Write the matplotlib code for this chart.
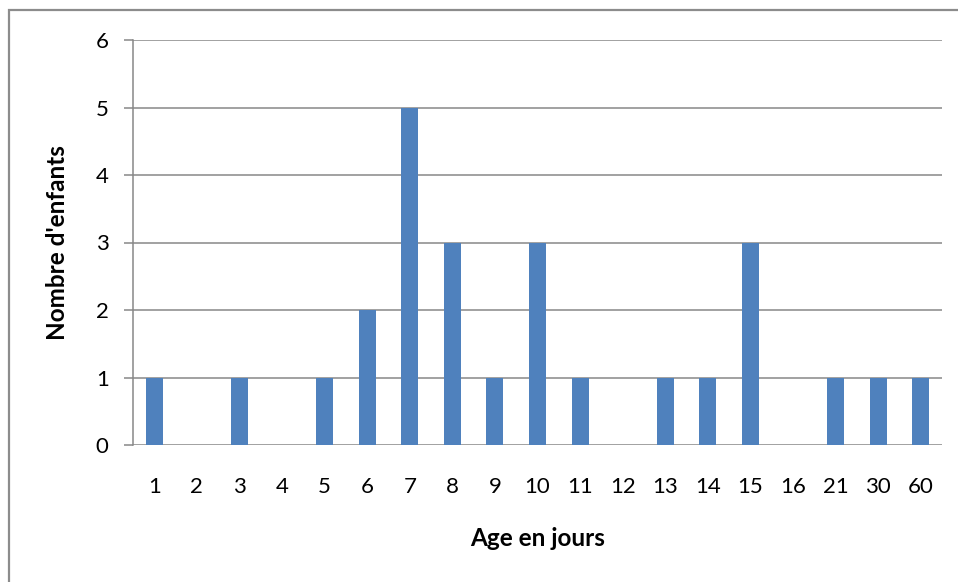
import matplotlib
matplotlib.use("Agg")
from matplotlib import pyplot as plt
from matplotlib.patches import Rectangle

# ages (days) and number of children
ages = ['1', '2', '3', '4', '5', '6', '7', '8', '9', '10', '11', '12', '13',
        '14', '15', '16', '21', '30', '60']
children = [1, 0, 1, 0, 1, 2, 5, 3, 1, 3, 1, 0, 1, 1, 3, 0, 1, 1, 1]
yticks = [0, 1, 2, 3, 4, 5, 6]

plt.rcParams['font.family'] = ['Lato', 'DejaVu Sans']

fig = plt.figure(figsize=(9.58, 5.82), dpi=100)
ax = fig.add_axes([133 / 958, 1 - 445 / 582, (942 - 133) / 958, (445 - 40) / 582])

grid_c = '#878787'
ax.bar(range(len(ages)), children, width=0.4, color='#4F81BD', zorder=3)
ax.set_xlim(-0.5, len(ages) - 0.5)
ax.set_ylim(0, 6)
ax.set_yticks(yticks)
ax.set_xticks(range(len(ages)))
ax.set_xticklabels(ages)
ax.yaxis.grid(True, color=grid_c, linewidth=1.1, zorder=1)
ax.set_axisbelow(True)

for side in ['top', 'right', 'bottom']:
    ax.spines[side].set_visible(False)
ax.spines['left'].set_color(grid_c)
ax.spines['left'].set_linewidth(1.1)
ax.tick_params(axis='y', length=6.5, width=1.1, color=grid_c, pad=11,
               labelsize=16)
ax.tick_params(axis='x', length=0, pad=23, labelsize=16)

ax.set_xlabel('Age en jours', fontsize=17.5, fontweight='bold', labelpad=22)
ax.set_ylabel("Nombre d'enfants", fontsize=17.5, fontweight='bold', labelpad=19)

# outer chart border (runs off the right and bottom edges)
fig.patches.append(Rectangle((9 / 958, -0.05), 1.0, 1 - 10 / 582 + 0.05,
                             transform=fig.transFigure, fill=False,
                             edgecolor='#8c8c8c', linewidth=1.6))

plt.savefig('out.png', dpi=100)
